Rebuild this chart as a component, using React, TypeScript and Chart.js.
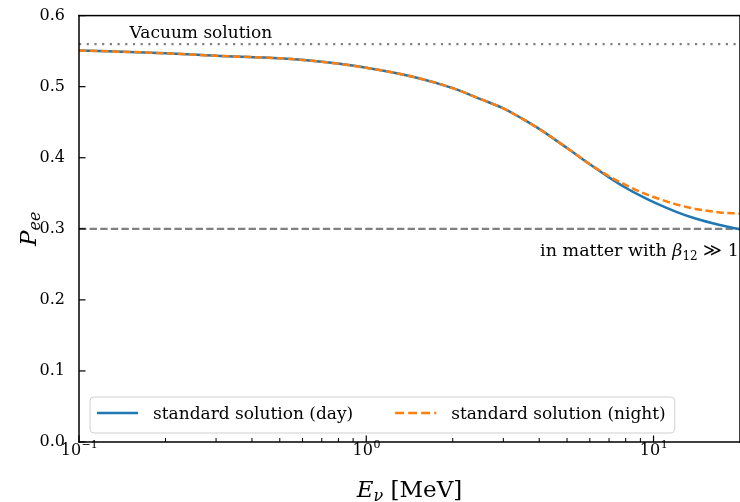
import React, { useEffect, useRef } from 'react';
import { Chart, registerables } from 'chart.js';

Chart.register(...registerables);

// ---- data ----
const ENERGY_MEV = [0.1, 0.2, 0.3, 0.5, 0.7, 1, 1.5, 2, 2.5, 3, 3.5, 4, 5, 6, 7, 8, 9, 10, 12, 14, 17, 20];
const P_DAY = [0.551, 0.547, 0.5434, 0.5399, 0.535, 0.5266, 0.5126, 0.4979, 0.4825, 0.4695, 0.4547, 0.4406, 0.4136, 0.3908, 0.3724, 0.3578, 0.3466, 0.3375, 0.3239, 0.3144, 0.3053, 0.2993];
const P_NIGHT = [0.551, 0.547, 0.5434, 0.5399, 0.535, 0.5266, 0.5126, 0.4979, 0.4825, 0.4695, 0.4547, 0.4406, 0.4137, 0.3911, 0.374, 0.3617, 0.3519, 0.3448, 0.3344, 0.328, 0.3231, 0.3213];
const VACUUM_P = 0.56;
const MATTER_P = 0.3;
const X_MIN = 0.1;
const X_MAX = 20;
const Y_TICKS = [0, 0.1, 0.2, 0.3, 0.4, 0.5, 0.6];
const X_MAJOR = [0.1, 1, 10];
const X_MAJOR_EXP = ['\u22121', '0', '1'];
const X_MINOR = [0.2, 0.3, 0.4, 0.5, 0.6, 0.7, 0.8, 0.9, 2, 3, 4, 5, 6, 7, 8, 9];
const LEGEND_LABELS = ['standard solution (day)', 'standard solution (night)'];
const VACUUM_LABEL = 'Vacuum solution';
const VACUUM_LABEL_POS = { x: 0.15, y: 0.569 };
const MATTER_LABEL_POS = { x: 20, y: 0.2615 };

const SERIF = '"DejaVu Serif", serif';
const BLUE = '#1f77b4';
const ORANGE = '#ff7f0e';
const GRAY = '#808080';

const decor = {
  id: 'decor',
  afterDraw(chart: any) {
    const { ctx, chartArea: a, scales } = chart;
    const xs = scales.x;
    const ys = scales.y;
    ctx.save();
    ctx.setLineDash([]);
    ctx.fillStyle = '#000';
    ctx.textBaseline = 'alphabetic';

    // annotation: vacuum
    ctx.font = `17px ${SERIF}`;
    ctx.textAlign = 'left';
    ctx.fillText(VACUUM_LABEL, xs.getPixelForValue(VACUUM_LABEL_POS.x), ys.getPixelForValue(VACUUM_LABEL_POS.y));

    // annotation: matter (right aligned)
    {
      const bx = xs.getPixelForValue(MATTER_LABEL_POS.x) - 1;
      const by = ys.getPixelForValue(MATTER_LABEL_POS.y);
      const parts = [
        { t: 'in matter with ', f: `17.5px ${SERIF}`, dy: 0 },
        { t: '\u03B2', f: `italic 17.5px ${SERIF}`, dy: 0 },
        { t: '12', f: `12px ${SERIF}`, dy: 4 },
        { t: ' \u226B 1', f: `17.5px ${SERIF}`, dy: 0 },
      ];
      let total = 0;
      for (const p of parts) { ctx.font = p.f; total += ctx.measureText(p.t).width; }
      let x = bx - total;
      for (const p of parts) {
        ctx.font = p.f;
        ctx.fillText(p.t, x, by + p.dy);
        x += ctx.measureText(p.t).width;
      }
    }

    // frame
    ctx.fillStyle = '#000';
    ctx.fillRect(a.left - 0.75, a.top - 0.75, a.right - a.left + 1.5, 1.5);
    ctx.fillRect(a.left - 0.75, a.bottom - 0.75, a.right - a.left + 1.5, 1.5);
    ctx.fillRect(a.left - 0.75, a.top - 0.75, 1.5, a.bottom - a.top + 1.5);
    ctx.fillRect(a.right - 0.75, a.top - 0.75, 1.5, a.bottom - a.top + 1.5);

    // ticks (inward)
    for (const t of ys.ticks) {
      const py = ys.getPixelForValue(t.value);
      ctx.fillRect(a.left, py - 0.6, 6.5, 1.2);
    }
    for (const v of X_MAJOR) {
      const px = xs.getPixelForValue(v);
      ctx.fillRect(px - 0.6, a.bottom - 6.5, 1.2, 6.5);
    }
    for (const v of X_MINOR) {
      const px = xs.getPixelForValue(v);
      ctx.fillRect(px - 0.5, a.bottom - 4, 1, 4);
    }

    // x tick labels 10^n
    X_MAJOR.forEach((v, i) => {
      const px = xs.getPixelForValue(v);
      ctx.font = `16px ${SERIF}`;
      const wb = ctx.measureText('10').width;
      ctx.font = `11px ${SERIF}`;
      const we = ctx.measureText(X_MAJOR_EXP[i]).width;
      const x0 = px - (wb + we) / 2;
      const base = a.bottom + 12.5;
      ctx.font = `16px ${SERIF}`;
      ctx.textAlign = 'left';
      ctx.fillText('10', x0, base);
      ctx.font = `11px ${SERIF}`;
      ctx.fillText(X_MAJOR_EXP[i], x0 + wb + 0.5, base - 7);
    });

    // x title
    {
      const parts = [
        { t: 'E', f: `italic 23px ${SERIF}`, dy: 0 },
        { t: '\u03BD', f: `italic 16px ${SERIF}`, dy: 4 },
        { t: ' [MeV]', f: `23px ${SERIF}`, dy: 0 },
      ];
      let total = 0;
      for (const p of parts) { ctx.font = p.f; total += ctx.measureText(p.t).width; }
      let x = (a.left + a.right) / 2 - total / 2;
      const base = a.bottom + 55;
      for (const p of parts) {
        ctx.font = p.f;
        ctx.fillText(p.t, x, base + p.dy);
        x += ctx.measureText(p.t).width;
      }
    }

    // y title (rotated)
    {
      ctx.save();
      ctx.translate(36, (a.top + a.bottom) / 2);
      ctx.rotate(-Math.PI / 2);
      const parts = [
        { t: 'P', f: `italic 23px ${SERIF}`, dy: 0 },
        { t: 'ee', f: `italic 16px ${SERIF}`, dy: 4 },
      ];
      let total = 0;
      for (const p of parts) { ctx.font = p.f; total += ctx.measureText(p.t).width; }
      let x = -total / 2;
      for (const p of parts) {
        ctx.font = p.f;
        ctx.fillText(p.t, x, p.dy);
        x += ctx.measureText(p.t).width;
      }
      ctx.restore();
    }

    // legend (lower left)
    {
      ctx.font = `17px ${SERIF}`;
      const left = a.left + 11;
      const bottom = a.bottom - 9;
      const h = 36;
      const top = bottom - h;
      const handle = 41;
      const w1 = ctx.measureText(LEGEND_LABELS[0]).width;
      const w2 = ctx.measureText(LEGEND_LABELS[1]).width;
      const width = 7 + handle + 15 + w1 + 42 + handle + 15 + w2 + 9;
      const r = 4;
      ctx.beginPath();
      ctx.moveTo(left + r, top);
      ctx.lineTo(left + width - r, top);
      ctx.quadraticCurveTo(left + width, top, left + width, top + r);
      ctx.lineTo(left + width, bottom - r);
      ctx.quadraticCurveTo(left + width, bottom, left + width - r, bottom);
      ctx.lineTo(left + r, bottom);
      ctx.quadraticCurveTo(left, bottom, left, bottom - r);
      ctx.lineTo(left, top + r);
      ctx.quadraticCurveTo(left, top, left + r, top);
      ctx.closePath();
      ctx.fillStyle = 'rgba(255,255,255,0.8)';
      ctx.fill();
      ctx.strokeStyle = '#d0d0d0';
      ctx.lineWidth = 1;
      ctx.stroke();

      const ly = top + 16;
      let x = left + 7;
      ctx.lineWidth = 2.5;
      ctx.strokeStyle = BLUE;
      ctx.setLineDash([]);
      ctx.beginPath();
      ctx.moveTo(x, ly);
      ctx.lineTo(x + handle, ly);
      ctx.stroke();
      x += handle + 15;
      ctx.fillStyle = '#000';
      ctx.fillText(LEGEND_LABELS[0], x, ly + 6);
      x += w1 + 42;
      ctx.strokeStyle = ORANGE;
      ctx.setLineDash([9, 4]);
      ctx.beginPath();
      ctx.moveTo(x, ly);
      ctx.lineTo(x + handle, ly);
      ctx.stroke();
      ctx.setLineDash([]);
      x += handle + 15;
      ctx.fillText(LEGEND_LABELS[1], x, ly + 6);
    }

    ctx.restore();
  },
};

export default function App() {
  const ref = useRef<HTMLCanvasElement | null>(null);

  useEffect(() => {
    if (!ref.current) return;
    const chart = new Chart(ref.current, {
      type: 'line',
      data: {
        datasets: [
          {
            label: LEGEND_LABELS[1],
            data: ENERGY_MEV.map((x, i) => ({ x, y: P_NIGHT[i] })),
            borderColor: ORANGE,
            borderWidth: 2.5,
            borderDash: [7.5, 3.5],
            pointRadius: 0,
            cubicInterpolationMode: 'monotone',
            order: 0,
          },
          {
            label: LEGEND_LABELS[0],
            data: ENERGY_MEV.map((x, i) => ({ x, y: P_DAY[i] })),
            borderColor: BLUE,
            borderWidth: 2.5,
            pointRadius: 0,
            cubicInterpolationMode: 'monotone',
            order: 1,
          },
          {
            label: 'vacuum',
            data: [{ x: X_MIN, y: VACUUM_P }, { x: X_MAX, y: VACUUM_P }],
            borderColor: GRAY,
            borderWidth: 2.2,
            borderDash: [2.2, 5.5],
            pointRadius: 0,
            order: 2,
          },
          {
            label: 'matter',
            data: [{ x: X_MIN, y: MATTER_P }, { x: X_MAX, y: MATTER_P }],
            borderColor: GRAY,
            borderWidth: 2.2,
            borderDash: [7.4, 3.2],
            pointRadius: 0,
            order: 3,
          },
        ],
      } as any,
      options: {
        animation: false,
        responsive: false,
        events: [],
        layout: { padding: { top: 13, left: 0, right: 0, bottom: 0 } },
        plugins: { legend: { display: false }, tooltip: { enabled: false } },
        scales: {
          x: {
            type: 'logarithmic',
            min: X_MIN,
            max: X_MAX,
            grid: { display: false },
            border: { display: false },
            ticks: { display: false },
            afterFit: (s: any) => { s.height = 60; },
          },
          y: {
            type: 'linear',
            min: 0,
            max: 0.6,
            grid: { display: false },
            border: { display: false },
            afterBuildTicks: (s: any) => { s.ticks = Y_TICKS.map((v) => ({ value: v })); },
            ticks: {
              color: '#000',
              padding: 6,
              font: { family: SERIF, size: 16 },
              callback: (v: any) => Number(v).toFixed(1),
            },
            afterFit: (s: any) => { s.width = 79; },
          },
        },
      } as any,
      plugins: [decor],
    });
    return () => chart.destroy();
  }, []);

  return (
    <div style={{ position: 'absolute', left: 0, top: 0, width: 740, height: 502 }}>
      <canvas ref={ref} width={740} height={502} style={{ display: 'block' }} />
    </div>
  );
}
